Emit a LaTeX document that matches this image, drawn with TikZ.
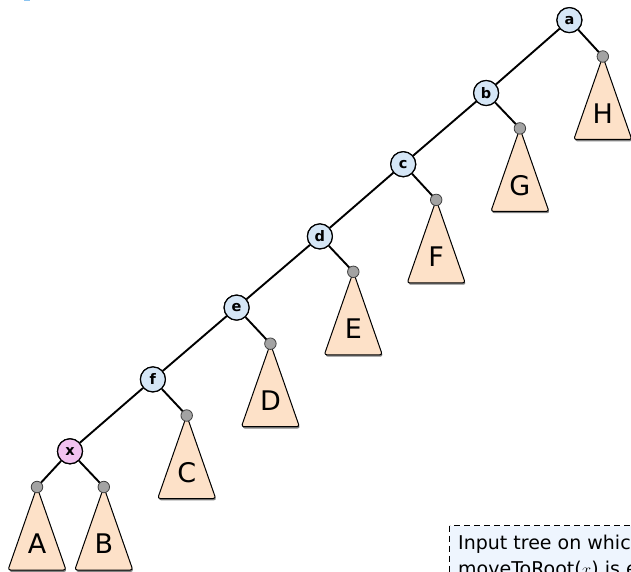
\documentclass[tikz,border=0pt]{standalone}
\usepackage{fontspec}
\setmainfont{DejaVu Sans}
\usetikzlibrary{calc}
\definecolor{nodeblue}{HTML}{D5E6F6}
\definecolor{nodepink}{HTML}{F2C2F0}
\definecolor{leafgray}{HTML}{A3A3A3}
\definecolor{trifill}{HTML}{FDE1C8}
\definecolor{boxfill}{HTML}{EEF5FE}
\definecolor{topblue}{HTML}{8CC4F0}
\tikzset{
  inner/.style={circle, draw=black, fill=nodeblue, line width=1.2pt, minimum size=25pt, inner sep=0pt,
    font=\bfseries\fontsize{14.5}{14.5}\selectfont},
  xnode/.style={inner, fill=nodepink},
  leaf/.style={circle, draw=black!75, fill=leafgray, line width=0.8pt, minimum size=11.5pt, inner sep=0pt},
  edge/.style={line width=1.9pt, black},
  tri/.style={draw=black, fill=trifill, line width=1pt, rounded corners=2.5pt, line join=round},
  trishadow/.style={fill=black!50, rounded corners=2.5pt},
  trilabel/.style={font=\fontsize{27}{27}\selectfont, inner sep=0pt},
  notebox/.style={draw=black, fill=boxfill, dash pattern=on 6pt off 4pt, line width=1pt},
  notetext/.style={font=\fontsize{19}{22}\selectfont, inner sep=0pt, anchor=base west}
}
\newcommand{\subtree}[2]{%
  \fill[trishadow] ($(#1)+(0.8,1.8)$) -- ++(29,83) -- ++(-58,0) -- cycle;
  \draw[tri] (#1) -- ++(29,83) -- ++(-58,0) -- cycle;
  \node[trilabel] at ($(#1)+(0,57)$) {#2};
}
\begin{document}
\begin{tikzpicture}[x=1pt,y=-1pt]
\useasboundingbox (0,0) rectangle (631,572);
\clip (0,0) rectangle (631,572);
\fill[topblue] (24,0) rectangle (30,1.2);
% inner nodes
\node[inner] (a) at (569.4,20.1) {a};
\node[inner] (b) at (486.1,93.0) {b};
\node[inner] (c) at (403.2,164.2) {c};
\node[inner] (d) at (319.9,236.4) {d};
\node[inner] (e) at (236.6,307.6) {e};
\node[inner] (f) at (152.9,379.4) {f};
\node[xnode] (x) at (70.0,451.3) {x};
% leaf roots
\coordinate (pH) at (602.8,56.5);
\coordinate (pG) at (519.9,128.4);
\coordinate (pF) at (436.2,199.9);
\coordinate (pE) at (353.3,271.8);
\coordinate (pD) at (270.4,343.7);
\coordinate (pC) at (186.7,415.5);
\coordinate (pA) at (37.0,487.0);
\coordinate (pB) at (103.8,487.0);
% subtrees
\subtree{pH}{H}
\subtree{pG}{G}
\subtree{pF}{F}
\subtree{pE}{E}
\subtree{pD}{D}
\subtree{pC}{C}
\subtree{pA}{A}
\subtree{pB}{B}
% edges
\draw[edge] (a) -- (pH);
\draw[edge] (b) -- (pG);
\draw[edge] (c) -- (pF);
\draw[edge] (d) -- (pE);
\draw[edge] (e) -- (pD);
\draw[edge] (f) -- (pC);
\draw[edge] (x) -- (pA);
\draw[edge] (x) -- (pB);
\draw[edge] (a) -- (b);
\draw[edge] (b) -- (c);
\draw[edge] (c) -- (d);
\draw[edge] (d) -- (e);
\draw[edge] (e) -- (f);
\draw[edge] (f) -- (x);
% leaf circles
\node[leaf] (lH) at (pH) {};
\node[leaf] (lG) at (pG) {};
\node[leaf] (lF) at (pF) {};
\node[leaf] (lE) at (pE) {};
\node[leaf] (lD) at (pD) {};
\node[leaf] (lC) at (pC) {};
\node[leaf] (lA) at (pA) {};
\node[leaf] (lB) at (pB) {};
% redraw inner nodes on top of edges
\foreach \n/\t in {a/a,b/b,c/c,d/d,e/e,f/f}{\node[inner] at (\n) {\t};}
\node[xnode] at (x) {x};
% note box
\coordinate (boxnw) at (449.5,525.5);
\coordinate (boxse) at (660,610);
\draw[notebox] (boxnw) rectangle (boxse);
\node[notetext] (t1) at (458,549) {Input tree on which};
\node[notetext] (t2) at (458,575.5) {moveToRoot($x$) is executed.};
\end{tikzpicture}
\end{document}
